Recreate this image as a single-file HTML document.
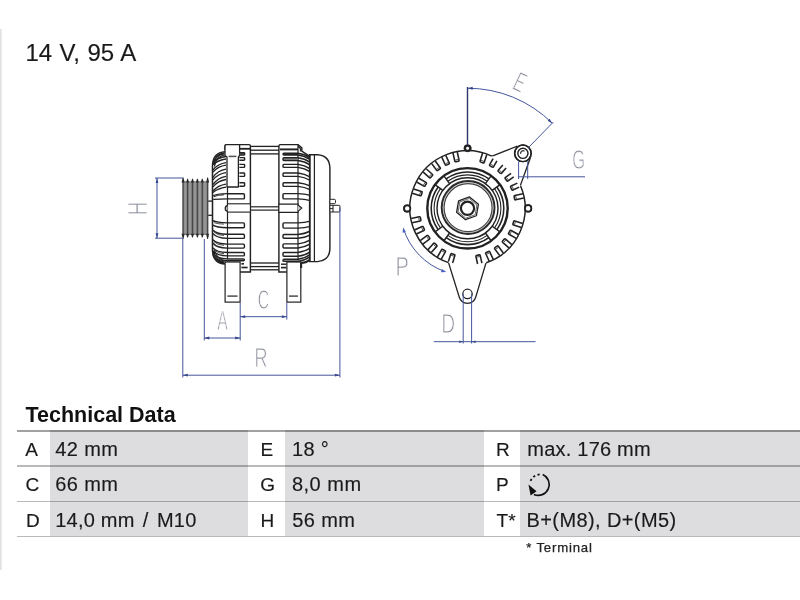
<!DOCTYPE html>
<html lang="en">
<head>
<meta charset="utf-8">
<title>Alternator 14 V, 95 A – Technical Data</title>
<style>
html,body{margin:0;padding:0;background:#fff;}
body{width:800px;height:600px;position:relative;overflow:hidden;font-family:"Liberation Sans",sans-serif;color:#1a1a1a;}
.abs{position:absolute;white-space:nowrap;line-height:1;}
h1,.k,.v{-webkit-text-stroke:0.15px #1a1a1a;}
h1,h2,.tbl,.note{filter:blur(0.35px);}
.note{-webkit-text-stroke:0.25px #222;}
.edge{position:absolute;left:0;top:29px;width:2.6px;height:541px;background:linear-gradient(to right,#dedede 0,#e3e3e3 0.9px,#f4f4f4 1.8px,#fff 2.6px);}
h1{margin:0;font-weight:400;font-size:24px;left:25.4px;top:41.3px;word-spacing:0.8px;}
h2{margin:0;font-weight:700;font-size:21.5px;left:25.5px;top:404.9px;color:#111;}
.tbl{position:absolute;left:17px;top:430.2px;width:783px;height:108px;}
.row{position:absolute;left:0;width:783px;height:35.2px;}
.hl{position:absolute;left:0;width:783px;height:1.4px;background:rgba(0,0,0,0.27);}
.g{position:absolute;top:0;height:100%;background:#dddddf;}
.k,.v{position:absolute;font-size:20px;line-height:1;white-space:nowrap;top:8.7px;}
.k{font-size:19px;top:9.6px;}
.note{font-size:13.2px;letter-spacing:0.8px;left:526.3px;top:541.1px;color:#222;}
svg{position:absolute;left:0;top:0;}
#side-view,#front-view{filter:blur(0.6px);}
#side-dims,#front-dims{filter:blur(0.3px);}
</style>
</head>
<body>
<div class="edge"></div>
<h1 class="abs">14 V, 95 A</h1>
<svg id="drawing" width="800" height="420" viewBox="0 0 800 420" stroke-linecap="butt" stroke-linejoin="miter">
<g id="side-view">
<rect x="182.5" y="181.2" width="25.8" height="53.8" fill="#878787"/>
<rect x="184.45" y="183" width="1.8" height="50.5" fill="#989898"/>
<rect x="182.45" y="181.2" width="1.3" height="53.8" fill="#474747"/>
<rect x="189.15" y="183" width="1.8" height="50.5" fill="#989898"/>
<rect x="186.95" y="181.2" width="1.3" height="53.8" fill="#474747"/>
<rect x="194.05" y="183" width="1.8" height="50.5" fill="#989898"/>
<rect x="191.85" y="181.2" width="1.3" height="53.8" fill="#474747"/>
<rect x="198.95" y="183" width="1.8" height="50.5" fill="#989898"/>
<rect x="196.75" y="181.2" width="1.3" height="53.8" fill="#474747"/>
<rect x="204.05" y="183" width="1.8" height="50.5" fill="#989898"/>
<rect x="201.65" y="181.2" width="1.3" height="53.8" fill="#474747"/>
<rect x="206.95" y="181.2" width="1.3" height="53.8" fill="#474747"/>
<polygon points="181.60,182.6 182.70,177.4 183.50,177.4 184.60,182.6" fill="#2a2a2a"/>
<polygon points="181.60,233.8 182.70,239.0 183.50,239.0 184.60,233.8" fill="#2a2a2a"/>
<polygon points="186.10,182.6 187.20,178.8 188.00,178.8 189.10,182.6" fill="#2a2a2a"/>
<polygon points="186.10,233.8 187.20,237.6 188.00,237.6 189.10,233.8" fill="#2a2a2a"/>
<polygon points="191.00,182.6 192.10,178.8 192.90,178.8 194.00,182.6" fill="#2a2a2a"/>
<polygon points="191.00,233.8 192.10,237.6 192.90,237.6 194.00,233.8" fill="#2a2a2a"/>
<polygon points="195.90,182.6 197.00,178.8 197.80,178.8 198.90,182.6" fill="#2a2a2a"/>
<polygon points="195.90,233.8 197.00,237.6 197.80,237.6 198.90,233.8" fill="#2a2a2a"/>
<polygon points="200.80,182.6 201.90,178.8 202.70,178.8 203.80,182.6" fill="#2a2a2a"/>
<polygon points="200.80,233.8 201.90,237.6 202.70,237.6 203.80,233.8" fill="#2a2a2a"/>
<polygon points="206.10,182.6 207.20,177.4 208.00,177.4 209.10,182.6" fill="#2a2a2a"/>
<polygon points="206.10,233.8 207.20,239.0 208.00,239.0 209.10,233.8" fill="#2a2a2a"/>
<line x1="208.20" y1="201.10" x2="212.50" y2="201.10" stroke="#222" stroke-width="1.32" />
<line x1="208.20" y1="215.30" x2="212.50" y2="215.30" stroke="#222" stroke-width="1.32" />
<path d="M 225 151.8 Q 213 152.5 212.5 165.5 L 212.5 250.5 Q 213 263.3 225 264" stroke="#222" stroke-width="1.56" fill="none" />
<path d="M 224.5 153.2 Q 214.6 154.5 213.6 165" stroke="#222" stroke-width="1.92" fill="none" />
<path d="M 224.5 154.8 Q 216 156.5 214.4 166.5" stroke="#222" stroke-width="1.2" fill="none" />
<path d="M 224.5 262.6 Q 214.6 261.3 213.6 251" stroke="#222" stroke-width="2.4" fill="none" />
<path d="M 224.5 260.8 Q 216.5 259 214.6 249.5" stroke="#222" stroke-width="1.2" fill="none" />
<path d="M 213 162 Q 218 157.7 226 156.5" stroke="#222" stroke-width="1.32" fill="none" />
<path d="M 213 164.5 Q 218 160.2 226 159" stroke="#222" stroke-width="1.32" fill="none" />
<path d="M 213 169.8 Q 218 163.79999999999998 226 162.6" stroke="#222" stroke-width="1.32" fill="none" />
<path d="M 213 172 Q 218 166.39999999999998 226 165.2" stroke="#222" stroke-width="1.32" fill="none" />
<path d="M 213 177.3 Q 218 170.39999999999998 226 169.2" stroke="#222" stroke-width="1.32" fill="none" />
<path d="M 213 179.8 Q 218 173.79999999999998 226 172.6" stroke="#222" stroke-width="1.32" fill="none" />
<path d="M 213 184.5 Q 218 177.5 226 176.3" stroke="#222" stroke-width="1.32" fill="none" />
<path d="M 213 186.8 Q 218 180.7 226 179.5" stroke="#222" stroke-width="1.32" fill="none" />
<path d="M 213 191 Q 218 185.39999999999998 226 184.2" stroke="#222" stroke-width="1.32" fill="none" />
<path d="M 213 192.5 Q 218 188.39999999999998 226 187.2" stroke="#222" stroke-width="1.32" fill="none" />
<path d="M 213.2 196 Q 216 193.8 227.5 193.7" stroke="#222" stroke-width="1.2" fill="none" />
<path d="M 213.2 199.3 Q 220 198.9 227.5 198.9" stroke="#222" stroke-width="1.2" fill="none" />
<path d="M 214 196.6 Q 218 194.9 224 194.8" stroke="#222" stroke-width="0.96" fill="none" />
<path d="M 212.9 220.70 Q 216.5 222.70 227.5 222.90" stroke="#222" stroke-width="1.44" fill="none" />
<path d="M 212.9 225.20 Q 216.5 227.60 227.5 227.80" stroke="#222" stroke-width="1.44" fill="none" />
<path d="M 214.2 222.70 Q 217.5 224.00 224 224.10" stroke="#444" stroke-width="0.96" fill="none" />
<path d="M 212.9 230.20 Q 216.5 234.10 227.5 234.30" stroke="#222" stroke-width="1.44" fill="none" />
<path d="M 212.9 233.40 Q 216.5 238.20 227.5 238.40" stroke="#222" stroke-width="1.44" fill="none" />
<path d="M 214.2 232.20 Q 217.5 235.40 224 235.50" stroke="#444" stroke-width="0.96" fill="none" />
<path d="M 212.9 239.80 Q 216.5 243.90 227.5 244.10" stroke="#222" stroke-width="1.44" fill="none" />
<path d="M 212.9 243.00 Q 216.5 247.90 227.5 248.10" stroke="#222" stroke-width="1.44" fill="none" />
<path d="M 214.2 241.80 Q 217.5 245.20 224 245.30" stroke="#444" stroke-width="0.96" fill="none" />
<path d="M 212.9 247.90 Q 216.5 252.30 227.5 252.50" stroke="#222" stroke-width="1.44" fill="none" />
<path d="M 212.9 250.60 Q 216.5 255.70 227.5 255.90" stroke="#222" stroke-width="1.44" fill="none" />
<path d="M 214.2 249.90 Q 217.5 253.60 224 253.70" stroke="#444" stroke-width="0.96" fill="none" />
<path d="M 212.9 253.40 Q 216.5 258.70 227.5 258.90" stroke="#222" stroke-width="1.44" fill="none" />
<path d="M 212.9 255.30 Q 216.5 260.60 227.5 260.80" stroke="#222" stroke-width="1.44" fill="none" />
<path d="M 214.2 255.40 Q 217.5 260.00 224 260.10" stroke="#444" stroke-width="0.96" fill="none" />
<line x1="227.50" y1="187.00" x2="227.50" y2="261.50" stroke="#222" stroke-width="1.2" />
<path d="M 225 150 L 225 146 Q 225 144.6 226.4 144.6 L 249 144.6 Q 250.4 144.6 250.4 146 L 250.4 272 L 240 272" stroke="#222" stroke-width="1.44" fill="none" />
<path d="M 225 155.4 L 225 146 Q 225 144.6 226.4 144.6 L 239.6 144.6 L 239.6 155.4 L 238.4 157 L 238.4 187 L 227 187 L 227 157 Z" fill="#fff" stroke="#222" stroke-width="1.3" stroke-linejoin="round"/>
<line x1="228.60" y1="156.40" x2="236.40" y2="156.40" stroke="#555" stroke-width="1.56" />
<line x1="239.50" y1="148.80" x2="250.20" y2="148.80" stroke="#222" stroke-width="1.8" />
<path d="M 239.4 152.7 L 243.9 152.7 Q 244.6 152.7 244.6 153.39999999999998 L 244.6 154.4 Q 244.6 155.1 243.9 155.1 L 239.4 155.1" stroke="#222" stroke-width="1.44" fill="#555" />
<path d="M 239.4 157.6 L 243.9 157.6 Q 244.6 157.6 244.6 158.29999999999998 L 244.6 159.60000000000002 Q 244.6 160.3 243.9 160.3 L 239.4 160.3" stroke="#222" stroke-width="1.44" fill="none" />
<path d="M 239.4 164.4 L 243.9 164.4 Q 244.6 164.4 244.6 165.1 L 244.6 166.70000000000002 Q 244.6 167.4 243.9 167.4 L 239.4 167.4" stroke="#222" stroke-width="1.44" fill="none" />
<path d="M 239.4 173 L 243.9 173 Q 244.6 173 244.6 173.7 L 244.6 175.70000000000002 Q 244.6 176.4 243.9 176.4 L 239.4 176.4" stroke="#222" stroke-width="1.44" fill="none" />
<path d="M 239.4 182.7 L 243.9 182.7 Q 244.6 182.7 244.6 183.39999999999998 L 244.6 185.5 Q 244.6 186.2 243.9 186.2 L 239.4 186.2" stroke="#222" stroke-width="1.44" fill="none" />
<path d="M 227.5 193.7 L 243.4 193.7 Q 244.4 193.7 244.4 194.7 L 244.4 197.9 Q 244.4 198.9 243.4 198.9 L 227.5 198.9" stroke="#222" stroke-width="1.44" fill="none" />
<path d="M 227.5 222.9 L 243.4 222.9 Q 244.4 222.9 244.4 223.9 L 244.4 226.8 Q 244.4 227.8 243.4 227.8 L 227.5 227.8" stroke="#222" stroke-width="1.44" fill="none" />
<path d="M 227.5 234.3 L 243.4 234.3 Q 244.4 234.3 244.4 235.3 L 244.4 237.4 Q 244.4 238.4 243.4 238.4 L 227.5 238.4" stroke="#222" stroke-width="1.44" fill="none" />
<path d="M 227.5 244.1 L 243.4 244.1 Q 244.4 244.1 244.4 245.1 L 244.4 247.1 Q 244.4 248.1 243.4 248.1 L 227.5 248.1" stroke="#222" stroke-width="1.44" fill="none" />
<path d="M 227.5 252.5 L 243.4 252.5 Q 244.4 252.5 244.4 253.5 L 244.4 254.9 Q 244.4 255.9 243.4 255.9 L 227.5 255.9" stroke="#222" stroke-width="1.44" fill="none" />
<path d="M 227.5 258.9 L 243.45 258.9 Q 244.4 258.9 244.4 259.85 L 244.4 259.85 Q 244.4 260.8 243.45 260.8 L 227.5 260.8" stroke="#222" stroke-width="1.44" fill="#999" />
<rect x="227.5" y="203.8" width="22.9" height="8.3" fill="#fff" stroke="#222" stroke-width="1.1"/>
<path d="M 227.5 205.6 Q 225.2 205.8 225.2 208.4 Q 225.2 211 227.5 211.2" stroke="#222" stroke-width="1.2" fill="#bbb" />
<line x1="250.40" y1="146.40" x2="278.90" y2="146.40" stroke="#222" stroke-width="1.32" />
<line x1="250.40" y1="150.20" x2="278.90" y2="150.20" stroke="#222" stroke-width="1.32" />
<line x1="250.40" y1="153.90" x2="278.90" y2="153.90" stroke="#222" stroke-width="1.32" />
<line x1="250.40" y1="206.80" x2="278.90" y2="206.80" stroke="#222" stroke-width="1.2" />
<line x1="250.40" y1="210.10" x2="278.90" y2="210.10" stroke="#222" stroke-width="1.2" />
<line x1="250.40" y1="263.00" x2="278.90" y2="263.00" stroke="#222" stroke-width="1.32" />
<line x1="250.40" y1="266.60" x2="278.90" y2="266.60" stroke="#222" stroke-width="1.32" />
<line x1="250.40" y1="269.80" x2="278.90" y2="269.80" stroke="#222" stroke-width="1.32" />
<path d="M 286.8 272 L 278.9 272 L 278.9 146 Q 278.9 144.6 280.3 144.6 L 298 144.6 L 301.8 147.9 L 301.8 151.2 L 309.4 156.2" stroke="#222" stroke-width="1.44" fill="none" />
<line x1="298.00" y1="144.60" x2="298.00" y2="262.00" stroke="#222" stroke-width="1.2" />
<line x1="280.00" y1="149.40" x2="298.00" y2="149.40" stroke="#222" stroke-width="1.92" />
<path d="M 298 146.5 L 300.4 148.6 L 300.4 151.6" stroke="#222" stroke-width="1.08" fill="none" />
<path d="M 298 153.2 L 283.9 153.2 Q 283 153.2 283 154.1 L 283 154.1 Q 283 155.0 283.9 155.0 L 298 155.0" stroke="#222" stroke-width="1.44" fill="#333" />
<path d="M 298 153.2 Q 305 154.25 309.3 157.40" stroke="#222" stroke-width="1.44" fill="none" />
<path d="M 298 155.0 Q 305 156.05 309.3 159.20" stroke="#222" stroke-width="1.44" fill="none" />
<path d="M 298 157.7 L 284.0 157.7 Q 283 157.7 283 158.7 L 283 159.5 Q 283 160.5 284.0 160.5 L 298 160.5" stroke="#222" stroke-width="1.44" fill="#999" />
<path d="M 298 157.7 Q 305 158.75 309.3 161.90" stroke="#222" stroke-width="1.44" fill="none" />
<path d="M 298 160.5 Q 305 161.55 309.3 164.70" stroke="#222" stroke-width="1.44" fill="none" />
<path d="M 298 164.4 L 284.0 164.4 Q 283 164.4 283 165.4 L 283 166.4 Q 283 167.4 284.0 167.4 L 298 167.4" stroke="#222" stroke-width="1.44" fill="none" />
<path d="M 298 164.4 Q 305 165.40 309.3 168.40" stroke="#222" stroke-width="1.44" fill="none" />
<path d="M 298 167.4 Q 305 168.40 309.3 171.40" stroke="#222" stroke-width="1.44" fill="none" />
<path d="M 298 173.0 L 284.0 173.0 Q 283 173.0 283 174.0 L 283 175.4 Q 283 176.4 284.0 176.4 L 298 176.4" stroke="#222" stroke-width="1.44" fill="none" />
<path d="M 298 173.0 Q 305 173.90 309.3 176.60" stroke="#222" stroke-width="1.44" fill="none" />
<path d="M 298 176.4 Q 305 177.30 309.3 180.00" stroke="#222" stroke-width="1.44" fill="none" />
<path d="M 298 182.7 L 284.0 182.7 Q 283 182.7 283 183.7 L 283 185.4 Q 283 186.4 284.0 186.4 L 298 186.4" stroke="#222" stroke-width="1.44" fill="none" />
<path d="M 298 182.7 Q 305 183.45 309.3 185.70" stroke="#222" stroke-width="1.44" fill="none" />
<path d="M 298 186.4 Q 305 187.15 309.3 189.40" stroke="#222" stroke-width="1.44" fill="none" />
<path d="M 298 193.6 L 284.0 193.6 Q 283 193.6 283 194.6 L 283 197.9 Q 283 198.9 284.0 198.9 L 298 198.9" stroke="#222" stroke-width="1.44" fill="none" />
<path d="M 298 193.6 Q 305 193.97 309.3 195.10" stroke="#222" stroke-width="1.44" fill="none" />
<path d="M 298 198.9 Q 305 199.28 309.3 200.40" stroke="#222" stroke-width="1.44" fill="none" />
<path d="M 298 222.9 L 284.0 222.9 Q 283 222.9 283 223.9 L 283 227.1 Q 283 228.1 284.0 228.1 L 298 228.1" stroke="#222" stroke-width="1.44" fill="none" />
<path d="M 298 222.9 Q 305 222.53 309.3 221.40" stroke="#222" stroke-width="1.44" fill="none" />
<path d="M 298 228.1 Q 305 227.72 309.3 226.60" stroke="#222" stroke-width="1.44" fill="none" />
<path d="M 298 234.5 L 284.0 234.5 Q 283 234.5 283 235.5 L 283 237.3 Q 283 238.3 284.0 238.3 L 298 238.3" stroke="#222" stroke-width="1.44" fill="none" />
<path d="M 298 234.5 Q 305 233.75 309.3 231.50" stroke="#222" stroke-width="1.44" fill="none" />
<path d="M 298 238.3 Q 305 237.55 309.3 235.30" stroke="#222" stroke-width="1.44" fill="none" />
<path d="M 298 243.9 L 284.0 243.9 Q 283 243.9 283 244.9 L 283 247.0 Q 283 248.0 284.0 248.0 L 298 248.0" stroke="#222" stroke-width="1.44" fill="none" />
<path d="M 298 243.9 Q 305 243.00 309.3 240.30" stroke="#222" stroke-width="1.44" fill="none" />
<path d="M 298 248.0 Q 305 247.10 309.3 244.40" stroke="#222" stroke-width="1.44" fill="none" />
<path d="M 298 252.5 L 284.0 252.5 Q 283 252.5 283 253.5 L 283 255.3 Q 283 256.3 284.0 256.3 L 298 256.3" stroke="#222" stroke-width="1.44" fill="none" />
<path d="M 298 252.5 Q 305 251.50 309.3 248.50" stroke="#222" stroke-width="1.44" fill="none" />
<path d="M 298 256.3 Q 305 255.30 309.3 252.30" stroke="#222" stroke-width="1.44" fill="none" />
<path d="M 298 259.2 L 284.0 259.2 Q 283 259.2 283 260.2 L 283 260.4 Q 283 261.4 284.0 261.4 L 298 261.4" stroke="#222" stroke-width="1.44" fill="#999" />
<path d="M 298 259.2 Q 305 258.15 309.3 255.00" stroke="#222" stroke-width="1.44" fill="none" />
<path d="M 298 261.4 Q 305 260.35 309.3 257.20" stroke="#222" stroke-width="1.44" fill="none" />
<path d="M 278.9 204.1 L 298 204.1 L 298 212.4 L 278.9 212.4 Z" fill="#fff" stroke="#222" stroke-width="1.1"/>
<path d="M 298 205 L 301.7 208.1 L 298 211.4" stroke="#222" stroke-width="1.2" fill="#ccc" />
<path d="M 309.6 154.7 L 317.5 154.7 Q 329.9 155.5 329.9 168.5 L 329.9 248 Q 329.9 260.8 317.5 261.6 L 309.6 261.6 Z" stroke="#222" stroke-width="1.44" fill="#fff" />
<line x1="314.40" y1="154.70" x2="314.40" y2="261.60" stroke="#222" stroke-width="1.2" />
<line x1="309.80" y1="154.70" x2="309.80" y2="261.60" stroke="#222" stroke-width="1.56" />
<path d="M 301 263 Q 306 263 309.3 260" stroke="#222" stroke-width="1.92" fill="none" />
<rect x="329.9" y="199.3" width="5.6" height="4.4" rx="1.2" fill="#fff" stroke="#222" stroke-width="1"/>
<rect x="329.9" y="205.3" width="10" height="6.7" rx="0.8" fill="#fff" stroke="#222" stroke-width="1"/>
<line x1="333.00" y1="205.30" x2="333.00" y2="212.00" stroke="#222" stroke-width="1.08" />
<line x1="329.90" y1="208.60" x2="333.00" y2="208.60" stroke="#222" stroke-width="0.96" />
<rect x="225.1" y="262" width="15" height="40.1" fill="#fff" stroke="#222" stroke-width="1.2"/>
<line x1="227.40" y1="296.10" x2="237.50" y2="296.10" stroke="#444" stroke-width="1.44" />
<rect x="286.9" y="262" width="13.9" height="40.1" fill="#fff" stroke="#222" stroke-width="1.2"/>
<line x1="289.00" y1="296.10" x2="298.00" y2="296.10" stroke="#444" stroke-width="1.44" />
<line x1="241.40" y1="263.80" x2="244.00" y2="263.80" stroke="#222" stroke-width="1.68" />
<line x1="241.40" y1="267.50" x2="247.60" y2="267.50" stroke="#222" stroke-width="1.68" />
<line x1="281.00" y1="264.20" x2="286.50" y2="264.20" stroke="#222" stroke-width="1.44" />
<line x1="281.00" y1="267.60" x2="286.50" y2="267.60" stroke="#222" stroke-width="1.68" />
<line x1="301.20" y1="262.50" x2="301.20" y2="268.00" stroke="#222" stroke-width="1.92" />
</g>
<g id="side-dims">
<line x1="155.00" y1="178.00" x2="183.00" y2="178.00" stroke="#44559c" stroke-width="1.0" />
<line x1="155.00" y1="238.20" x2="183.00" y2="238.20" stroke="#44559c" stroke-width="1.0" />
<line x1="157.00" y1="178.00" x2="157.00" y2="238.20" stroke="#44559c" stroke-width="1.0" />
<polygon points="157.00,178.00 158.40,183.00 155.60,183.00" fill="#36468c"/>
<polygon points="157.00,238.20 155.60,233.20 158.40,233.20" fill="#36468c"/>
<text transform="translate(147.40,213.75) rotate(-90) scale(0.1878,0.2776)" x="-8.20" y="0.00" font-size="100" fill="#8e919d" stroke="#fff" stroke-width="0.7" vector-effect="non-scaling-stroke" font-family="'Liberation Sans', sans-serif">H</text>
<line x1="182.80" y1="239.00" x2="182.80" y2="377.50" stroke="#44559c" stroke-width="1.0" />
<line x1="339.90" y1="207.50" x2="339.90" y2="377.50" stroke="#44559c" stroke-width="1.0" />
<line x1="182.80" y1="375.20" x2="339.90" y2="375.20" stroke="#44559c" stroke-width="1.0" />
<polygon points="182.80,375.20 187.80,373.80 187.80,376.60" fill="#36468c"/>
<polygon points="339.90,375.20 334.90,376.60 334.90,373.80" fill="#36468c"/>
<text transform="translate(255.95,367.25) rotate(0) scale(0.1804,0.2834)" x="-8.20" y="0.00" font-size="100" fill="#8e919d" stroke="#fff" stroke-width="0.7" vector-effect="non-scaling-stroke" font-family="'Liberation Sans', sans-serif">R</text>
<line x1="204.30" y1="239.00" x2="204.30" y2="340.50" stroke="#44559c" stroke-width="1.0" />
<line x1="240.20" y1="302.50" x2="240.20" y2="340.50" stroke="#44559c" stroke-width="1.0" />
<line x1="204.30" y1="338.00" x2="240.20" y2="338.00" stroke="#44559c" stroke-width="1.0" />
<polygon points="204.30,338.00 209.30,336.60 209.30,339.40" fill="#36468c"/>
<polygon points="240.20,338.00 235.20,339.40 235.20,336.60" fill="#36468c"/>
<text transform="translate(217.15,329.55) rotate(0) scale(0.1584,0.2703)" x="-0.20" y="0.00" font-size="100" fill="#8e919d" stroke="#fff" stroke-width="0.7" vector-effect="non-scaling-stroke" font-family="'Liberation Sans', sans-serif">A</text>
<line x1="286.80" y1="302.50" x2="286.80" y2="319.50" stroke="#44559c" stroke-width="1.0" />
<line x1="240.20" y1="316.70" x2="286.80" y2="316.70" stroke="#44559c" stroke-width="1.0" />
<polygon points="240.20,316.70 245.20,315.30 245.20,318.10" fill="#36468c"/>
<polygon points="286.80,316.70 281.80,318.10 281.80,315.30" fill="#36468c"/>
<text transform="translate(258.65,309.25) rotate(0) scale(0.1564,0.2853)" x="-5.10" y="-1.00" font-size="100" fill="#8e919d" stroke="#fff" stroke-width="0.7" vector-effect="non-scaling-stroke" font-family="'Liberation Sans', sans-serif">C</text>
</g>
<g id="front-view">
<path d="M 491.5 156.3 L 517.4 146.2" stroke="#222" stroke-width="1.32" fill="none" />
<path d="M 530.3 158.0 L 520.3 185.6" stroke="#222" stroke-width="1.32" fill="none" />
<circle cx="522.90" cy="153.30" r="8.30" stroke="#222" stroke-width="1.44" fill="#fff"/>
<path d="M 448.4 262.3 L 459.3 297.3 A 8.6 8.6 0 0 0 475.7 297.3 L 486.2 262.3" stroke="#222" stroke-width="1.26" fill="#fff" />
<circle cx="467.50" cy="293.90" r="4.70" stroke="#222" stroke-width="1.26" fill="none"/>
<circle cx="407.20" cy="208.40" r="3.10" stroke="#222" stroke-width="1.8" fill="#fff"/>
<circle cx="528.10" cy="208.40" r="3.20" stroke="#222" stroke-width="1.8" fill="#fff"/>
<circle cx="467.60" cy="148.30" r="2.70" stroke="#222" stroke-width="2.28" fill="#fff"/>
<circle cx="467.5" cy="208.3" r="57.6" fill="#fff"/>
<path d="M 491.84 156.10 A 57.6 57.6 0 1 0 448.37 262.63" stroke="#222" stroke-width="1.5" fill="none" />
<path d="M 486.25 262.76 A 57.6 57.6 0 0 0 520.52 185.79" stroke="#222" stroke-width="1.5" fill="none" />
<circle cx="407.20" cy="208.40" r="3.10" stroke="#222" stroke-width="1.8" fill="#fff"/>
<circle cx="528.10" cy="208.40" r="3.20" stroke="#222" stroke-width="1.8" fill="#fff"/>
<circle cx="467.60" cy="148.30" r="2.70" stroke="#222" stroke-width="2.28" fill="#fff"/>
<circle cx="522.90" cy="153.30" r="8.30" stroke="#222" stroke-width="1.44" fill="none"/>
<circle cx="522.90" cy="153.30" r="5.10" stroke="#222" stroke-width="1.44" fill="#fff"/>
<path d="M 520.70 153.90 A 2.4 2.4 0 0 1 524.50 151.30" stroke="#333" stroke-width="1.2" fill="none" />
<path d="M 522.87 193.77 L 514.76 195.57 Q 513.89 195.76 514.08 196.64 L 514.64 199.18 Q 514.84 200.06 515.72 199.86 L 523.82 198.07" stroke="#222" stroke-width="1.56" fill="none" />
<path d="M 515.68 195.98 L 516.37 199.11" stroke="#444" stroke-width="0.96" fill="none" />
<path d="M 517.36 183.16 L 511.08 186.02 Q 510.27 186.39 510.64 187.21 L 511.72 189.58 Q 512.09 190.40 512.91 190.02 L 519.19 187.16" stroke="#222" stroke-width="1.56" fill="none" />
<path d="M 512.06 186.23 L 513.39 189.15" stroke="#444" stroke-width="0.96" fill="none" />
<path d="M 511.05 173.34 L 505.50 177.44 Q 504.78 177.98 505.31 178.70 L 506.86 180.79 Q 507.39 181.52 508.12 180.98 L 513.66 176.88" stroke="#222" stroke-width="1.56" fill="none" />
<path d="M 506.50 177.45 L 508.40 180.02" stroke="#444" stroke-width="0.96" fill="none" />
<path d="M 502.83 165.05 L 498.25 170.22 Q 497.66 170.89 498.33 171.49 L 500.28 173.21 Q 500.95 173.81 501.55 173.13 L 506.12 167.97" stroke="#222" stroke-width="1.56" fill="none" />
<path d="M 499.23 170.02 L 501.63 172.14" stroke="#444" stroke-width="0.96" fill="none" />
<path d="M 493.06 158.65 L 489.66 164.66 Q 489.22 165.44 490.00 165.88 L 492.27 167.16 Q 493.05 167.61 493.49 166.82 L 496.89 160.82" stroke="#222" stroke-width="1.56" fill="none" />
<path d="M 490.58 164.26 L 493.37 165.83" stroke="#444" stroke-width="0.96" fill="none" />
<path d="M 482.60 153.09 L 480.11 161.00 Q 479.84 161.86 480.69 162.13 L 483.17 162.91 Q 484.03 163.18 484.30 162.32 L 486.80 154.41" stroke="#222" stroke-width="1.56" fill="none" />
<path d="M 480.92 160.42 L 483.97 161.38" stroke="#444" stroke-width="0.96" fill="none" />
<path d="M 452.97 152.93 L 454.77 161.04 Q 454.96 161.91 455.84 161.72 L 458.38 161.16 Q 459.26 160.96 459.06 160.08 L 457.27 151.98" stroke="#222" stroke-width="1.56" fill="none" />
<path d="M 455.18 160.12 L 458.31 159.43" stroke="#444" stroke-width="0.96" fill="none" />
<path d="M 441.78 157.16 L 445.22 164.72 Q 445.59 165.53 446.41 165.16 L 448.78 164.08 Q 449.60 163.71 449.22 162.89 L 445.78 155.34" stroke="#222" stroke-width="1.56" fill="none" />
<path d="M 445.43 163.74 L 448.35 162.41" stroke="#444" stroke-width="0.96" fill="none" />
<path d="M 431.71 163.63 L 436.64 170.30 Q 437.18 171.02 437.90 170.49 L 439.99 168.94 Q 440.72 168.41 440.18 167.68 L 435.24 161.01" stroke="#222" stroke-width="1.56" fill="none" />
<path d="M 436.65 169.30 L 439.22 167.40" stroke="#444" stroke-width="0.96" fill="none" />
<path d="M 423.20 172.05 L 429.42 177.55 Q 430.09 178.14 430.69 177.47 L 432.41 175.52 Q 433.01 174.85 432.33 174.25 L 426.12 168.75" stroke="#222" stroke-width="1.56" fill="none" />
<path d="M 429.22 176.57 L 431.34 174.17" stroke="#444" stroke-width="0.96" fill="none" />
<path d="M 416.63 182.05 L 423.86 186.14 Q 424.64 186.58 425.08 185.80 L 426.36 183.53 Q 426.81 182.75 426.02 182.31 L 418.80 178.22" stroke="#222" stroke-width="1.56" fill="none" />
<path d="M 423.46 185.22 L 425.03 182.43" stroke="#444" stroke-width="0.96" fill="none" />
<path d="M 412.29 193.20 L 420.20 195.69 Q 421.06 195.96 421.33 195.11 L 422.11 192.63 Q 422.38 191.77 421.52 191.50 L 413.61 189.00" stroke="#222" stroke-width="1.56" fill="none" />
<path d="M 419.62 194.88 L 420.58 191.83" stroke="#444" stroke-width="0.96" fill="none" />
<path d="M 412.13 222.83 L 420.24 221.03 Q 421.11 220.84 420.92 219.96 L 420.36 217.42 Q 420.16 216.54 419.28 216.74 L 411.18 218.53" stroke="#222" stroke-width="1.56" fill="none" />
<path d="M 419.32 220.62 L 418.63 217.49" stroke="#444" stroke-width="0.96" fill="none" />
<path d="M 416.36 234.02 L 423.92 230.58 Q 424.73 230.21 424.36 229.39 L 423.28 227.02 Q 422.91 226.20 422.09 226.58 L 414.54 230.02" stroke="#222" stroke-width="1.56" fill="none" />
<path d="M 422.94 230.37 L 421.61 227.45" stroke="#444" stroke-width="0.96" fill="none" />
<path d="M 422.83 244.09 L 429.50 239.16 Q 430.22 238.62 429.69 237.90 L 428.14 235.81 Q 427.61 235.08 426.88 235.62 L 420.21 240.56" stroke="#222" stroke-width="1.56" fill="none" />
<path d="M 428.50 239.15 L 426.60 236.58" stroke="#444" stroke-width="0.96" fill="none" />
<path d="M 431.25 252.60 L 436.75 246.38 Q 437.34 245.71 436.67 245.11 L 434.72 243.39 Q 434.05 242.79 433.45 243.47 L 427.95 249.68" stroke="#222" stroke-width="1.56" fill="none" />
<path d="M 435.77 246.58 L 433.37 244.46" stroke="#444" stroke-width="0.96" fill="none" />
<path d="M 441.25 259.17 L 445.34 251.94 Q 445.78 251.16 445.00 250.72 L 442.73 249.44 Q 441.95 248.99 441.51 249.78 L 437.42 257.00" stroke="#222" stroke-width="1.56" fill="none" />
<path d="M 444.42 252.34 L 441.63 250.77" stroke="#444" stroke-width="0.96" fill="none" />
<path d="M 452.58 262.94 L 454.89 255.60 Q 455.16 254.74 454.31 254.47 L 451.83 253.69 Q 450.97 253.42 450.70 254.28 L 448.38 261.62" stroke="#222" stroke-width="1.56" fill="none" />
<path d="M 454.08 256.18 L 451.03 255.22" stroke="#444" stroke-width="0.96" fill="none" />
<path d="M 481.90 263.08 L 480.23 255.56 Q 480.04 254.69 479.16 254.88 L 476.62 255.44 Q 475.74 255.64 475.94 256.52 L 477.60 264.03" stroke="#222" stroke-width="1.56" fill="none" />
<path d="M 479.82 256.48 L 476.69 257.17" stroke="#444" stroke-width="0.96" fill="none" />
<path d="M 493.22 259.44 L 489.78 251.88 Q 489.41 251.07 488.59 251.44 L 486.22 252.52 Q 485.40 252.89 485.78 253.71 L 489.22 261.26" stroke="#222" stroke-width="1.56" fill="none" />
<path d="M 489.57 252.86 L 486.65 254.19" stroke="#444" stroke-width="0.96" fill="none" />
<path d="M 503.29 252.97 L 498.36 246.30 Q 497.82 245.58 497.10 246.11 L 495.01 247.66 Q 494.28 248.19 494.82 248.92 L 499.76 255.59" stroke="#222" stroke-width="1.56" fill="none" />
<path d="M 498.35 247.30 L 495.78 249.20" stroke="#444" stroke-width="0.96" fill="none" />
<path d="M 511.80 244.55 L 505.58 239.05 Q 504.91 238.46 504.31 239.13 L 502.59 241.08 Q 501.99 241.75 502.67 242.35 L 508.88 247.85" stroke="#222" stroke-width="1.56" fill="none" />
<path d="M 505.78 240.03 L 503.66 242.43" stroke="#444" stroke-width="0.96" fill="none" />
<path d="M 518.37 234.55 L 511.14 230.46 Q 510.36 230.02 509.92 230.80 L 508.64 233.07 Q 508.19 233.85 508.98 234.29 L 516.20 238.38" stroke="#222" stroke-width="1.56" fill="none" />
<path d="M 511.54 231.38 L 509.97 234.17" stroke="#444" stroke-width="0.96" fill="none" />
<path d="M 522.71 223.40 L 514.80 220.91 Q 513.94 220.64 513.67 221.49 L 512.89 223.97 Q 512.62 224.83 513.48 225.10 L 521.39 227.60" stroke="#222" stroke-width="1.56" fill="none" />
<path d="M 515.38 221.72 L 514.42 224.77" stroke="#444" stroke-width="0.96" fill="none" />
<circle cx="467.50" cy="208.30" r="40.20" stroke="#222" stroke-width="2.4" fill="none"/>
<circle cx="468.10" cy="207.50" r="26.30" stroke="#2a2a2a" stroke-width="2.16" fill="none"/>
<circle cx="468.10" cy="207.60" r="25.00" stroke="#c4c4c4" stroke-width="0.84" fill="none"/>
<circle cx="468.10" cy="207.70" r="24.00" stroke="#444" stroke-width="1.2" fill="none"/>
<circle cx="467.50" cy="208.30" r="30.50" stroke="#222" stroke-width="1.44" fill="none"/>
<line x1="492.18" y1="190.37" x2="499.70" y2="184.91" stroke="#222" stroke-width="1.44" />
<line x1="485.43" y1="183.62" x2="490.89" y2="176.10" stroke="#222" stroke-width="1.44" />
<line x1="449.57" y1="183.62" x2="444.11" y2="176.10" stroke="#222" stroke-width="1.44" />
<line x1="442.82" y1="190.37" x2="435.30" y2="184.91" stroke="#222" stroke-width="1.44" />
<line x1="442.82" y1="226.23" x2="435.30" y2="231.69" stroke="#222" stroke-width="1.44" />
<line x1="449.57" y1="232.98" x2="444.11" y2="240.50" stroke="#222" stroke-width="1.44" />
<line x1="485.43" y1="232.98" x2="490.89" y2="240.50" stroke="#222" stroke-width="1.44" />
<line x1="492.18" y1="226.23" x2="499.70" y2="231.69" stroke="#222" stroke-width="1.44" />
<path d="M 496.87 229.64 A 36.3 36.3 0 0 0 496.87 186.96" stroke="#222" stroke-width="1.56" fill="none" />
<path d="M 494.52 227.93 A 33.4 33.4 0 0 0 494.52 188.67" stroke="#222" stroke-width="1.08" fill="none" />
<path d="M 488.84 178.93 A 36.3 36.3 0 0 0 446.16 178.93" stroke="#222" stroke-width="1.56" fill="none" />
<path d="M 487.13 181.28 A 33.4 33.4 0 0 0 447.87 181.28" stroke="#222" stroke-width="1.08" fill="none" />
<path d="M 438.13 186.96 A 36.3 36.3 0 0 0 438.13 229.64" stroke="#222" stroke-width="1.56" fill="none" />
<path d="M 440.48 188.67 A 33.4 33.4 0 0 0 440.48 227.93" stroke="#222" stroke-width="1.08" fill="none" />
<path d="M 446.16 237.67 A 36.3 36.3 0 0 0 488.84 237.67" stroke="#222" stroke-width="1.56" fill="none" />
<path d="M 447.87 235.32 A 33.4 33.4 0 0 0 487.13 235.32" stroke="#222" stroke-width="1.08" fill="none" />
<polygon points="478.40,204.33 469.51,196.88 458.61,200.84 456.60,212.27 465.49,219.72 476.39,215.76" fill="#fff" stroke="#222" stroke-width="1.3" stroke-linejoin="round"/>
<polygon points="476.90,204.88 469.24,198.45 459.84,201.87 458.10,211.72 465.76,218.15 475.16,214.73" fill="none" stroke="#444" stroke-width="0.8"/>
<circle cx="467.50" cy="208.30" r="6.60" stroke="#222" stroke-width="2.16" fill="none"/>
</g>
<g id="front-dims">
<line x1="467.50" y1="87.00" x2="467.50" y2="145.00" stroke="#2e3a6e" stroke-width="1.44" />
<path d="M 467.5 88.23 A 120.07 120.07 0 0 1 552.20 123.20" stroke="#44559c" stroke-width="1.0" fill="none" />
<line x1="553.40" y1="122.00" x2="528.50" y2="147.50" stroke="#44559c" stroke-width="1.0" />
<polygon points="467.70,88.23 472.70,86.83 472.70,89.63" fill="#36468c"/>
<polygon points="552.20,123.20 547.67,120.65 549.65,118.67" fill="#36468c"/>
<text transform="translate(512.45,89.05) rotate(25) scale(0.1587,0.2762)" x="-8.20" y="0.00" font-size="100" fill="#8e919d" stroke="#fff" stroke-width="0.7" vector-effect="non-scaling-stroke" font-family="'Liberation Sans', sans-serif">E</text>
<line x1="518.60" y1="161.50" x2="518.60" y2="179.00" stroke="#44559c" stroke-width="1.0" />
<line x1="527.70" y1="161.50" x2="527.70" y2="179.00" stroke="#44559c" stroke-width="1.0" />
<line x1="518.20" y1="176.80" x2="585.00" y2="176.80" stroke="#44559c" stroke-width="1.0" />
<text transform="translate(572.95,169.05) rotate(0) scale(0.1654,0.2839)" x="-5.00" y="-1.00" font-size="100" fill="#8e919d" stroke="#fff" stroke-width="0.7" vector-effect="non-scaling-stroke" font-family="'Liberation Sans', sans-serif">G</text>
<path d="M 403.41 228.51 A 67.2 67.2 0 0 0 445.07 271.65" stroke="#44559c" stroke-width="1.0" fill="none" />
<polygon points="403.11,227.51 405.89,232.00 402.58,232.76" fill="#4a62c0"/>
<polygon points="446.27,272.05 440.99,272.21 441.98,268.96" fill="#4a62c0"/>
<text transform="translate(397.25,275.95) rotate(0) scale(0.2011,0.2805)" x="-8.20" y="0.00" font-size="100" fill="#8e919d" stroke="#fff" stroke-width="0.7" vector-effect="non-scaling-stroke" font-family="'Liberation Sans', sans-serif">P</text>
<line x1="463.20" y1="294.00" x2="463.20" y2="343.50" stroke="#44559c" stroke-width="1.0" />
<line x1="471.60" y1="294.00" x2="471.60" y2="343.50" stroke="#44559c" stroke-width="1.0" />
<line x1="433.80" y1="341.70" x2="535.50" y2="341.70" stroke="#44559c" stroke-width="1.0" />
<polygon points="463.20,341.70 459.20,343.00 459.20,340.40" fill="#36468c"/>
<polygon points="471.60,341.70 475.60,340.40 475.60,343.00" fill="#36468c"/>
<text transform="translate(442.95,333.45) rotate(0) scale(0.1875,0.2805)" x="-8.20" y="0.00" font-size="100" fill="#8e919d" stroke="#fff" stroke-width="0.7" vector-effect="non-scaling-stroke" font-family="'Liberation Sans', sans-serif">D</text>
</g>
</svg>
<h2 class="abs">Technical Data</h2>
<div class="tbl">
  <div class="row" style="top:0">
    <div class="g" style="left:32.8px;width:198.2px"></div><div class="g" style="left:267.8px;width:198.8px"></div><div class="g" style="left:502.8px;width:281px"></div>
    <span class="k" style="left:8.2px">A</span><span class="v" style="left:38.3px;letter-spacing:0.4px">42 mm</span>
    <span class="k" style="left:243.6px">E</span><span class="v" style="left:275.1px;letter-spacing:0.3px">18 °</span>
    <span class="k" style="left:478.9px">R</span><span class="v" style="left:510.3px;letter-spacing:0.22px">max. 176 mm</span>
  </div>
  <div class="row" style="top:35.2px">
    <div class="g" style="left:32.8px;width:198.2px"></div><div class="g" style="left:267.8px;width:198.8px"></div><div class="g" style="left:502.8px;width:281px"></div>
    <span class="k" style="left:8.6px">C</span><span class="v" style="left:38.3px;letter-spacing:0.4px">66 mm</span>
    <span class="k" style="left:243.3px">G</span><span class="v" style="left:274.9px;letter-spacing:0.5px">8,0 mm</span>
    <span class="k" style="left:478.9px">P</span>
    <svg style="left:509.2px;top:6.9px" width="28.6" height="26.4" viewBox="0 0 26 24">
      <path d="M 7.2 20.4 A 9.7 9.7 0 1 0 15.2 2.3" fill="none" stroke="#111" stroke-width="1.5"/>
      <path d="M 12.4 2.2 A 9.7 9.7 0 0 0 3.5 10.4" fill="none" stroke="#111" stroke-width="1.7" stroke-dasharray="2 2.3"/>
      <polygon points="2.2,11.4 9.6,17.6 4.2,21.4" fill="#111"/>
    </svg>
  </div>
  <div class="row" style="top:70.8px">
    <div class="g" style="left:32.8px;width:198.2px"></div><div class="g" style="left:267.8px;width:198.8px"></div><div class="g" style="left:502.8px;width:281px"></div>
    <span class="k" style="left:8.9px">D</span><span class="v" style="left:38.3px;letter-spacing:0.2px">14,0 mm<span style="word-spacing:2.6px"> / </span>M10</span>
    <span class="k" style="left:243.6px">H</span><span class="v" style="left:275.3px;letter-spacing:0.4px">56 mm</span>
    <span class="k" style="left:479.6px">T*</span><span class="v" style="left:509.5px;letter-spacing:0.4px">B+(M8), D+(M5)</span>
  </div>
  <div class="hl" style="top:0;background:rgba(0,0,0,0.37)"></div><div class="hl" style="top:35.2px"></div><div class="hl" style="top:70.4px"></div><div class="hl" style="top:105.6px"></div>
</div>
<div class="abs note">* Terminal</div>
</body>
</html>
